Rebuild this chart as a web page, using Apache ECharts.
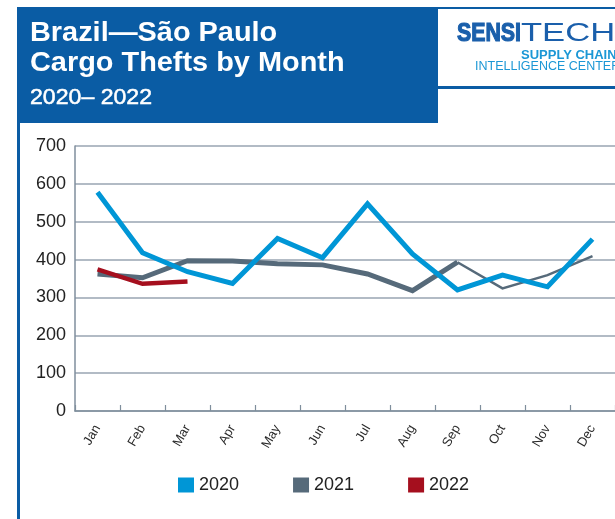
<!DOCTYPE html>
<html>
<head>
<meta charset="utf-8">
<script src="https://cdn.jsdelivr.net/npm/echarts@6/dist/echarts.min.js"></script>
<style>
html,body{margin:0;padding:0;background:#fff;}
#chart{width:615px;height:519px;}
</style>
</head>
<body>
<div id="chart"></div>
<script>
const months = ['Jan','Feb','Mar','Apr','May','Jun','Jul','Aug','Sep','Oct','Nov','Dec'];
const values2020 = [578, 418, 368, 337, 456, 405, 547, 415, 320, 359, 328, 454];
const values2021 = [362, 352, 397, 396, 389, 386, 362, 318, 393, 324, 359, 409];
const values2022 = [374, 336, 342];
const seriesNames = ['2020', '2021', '2022'];
const yMin = 0, yMax = 700, yStep = 100;
const titleLines = ['Brazil\u2014São Paulo', 'Cargo Thefts by Month', '2020\u2013 2022'];

const FONT = "'Liberation Sans', Arial, Helvetica, sans-serif";
const C2020 = '#0096d6', C2021 = '#566a7a', C2022 = '#a50f1e';
const BRAND = '#0a5ca4';

// 2021 is drawn thick through Sep, thin afterwards (as in the reference)
const split2021 = 8;
const v2021a = values2021.map((v, i) => (i <= split2021 ? v : null));
const v2021b = values2021.map((v, i) => (i >= split2021 ? v : null));

const chart = echarts.init(document.getElementById('chart'), null, {renderer: 'canvas'});
chart.setOption({
  animation: false,
  backgroundColor: '#ffffff',
  textStyle: {fontFamily: FONT},
  grid: {left: 75, right: 0, top: 146, bottom: 108},
  legend: {
    data: seriesNames,
    left: 178, top: 476,
    icon: 'rect', itemWidth: 16, itemHeight: 15, itemGap: 54,
    textStyle: {fontSize: 18, color: '#222', fontFamily: FONT},
    padding: 0
  },
  xAxis: {
    type: 'category', data: months, boundaryGap: true,
    axisLine: {lineStyle: {color: '#7f8e9c', width: 1.5}},
    axisTick: {show: true, inside: true, length: 6, interval: 0, lineStyle: {color: '#7f8e9c', width: 1.2}},
    axisLabel: {interval: 0, rotate: 60, fontSize: 13, color: '#2a2a2a', margin: 15, fontFamily: FONT},
    splitLine: {show: false}
  },
  yAxis: {
    type: 'value', min: yMin, max: yMax, interval: yStep,
    axisLine: {show: true, lineStyle: {color: '#7f8e9c', width: 1.5}},
    axisTick: {show: false},
    axisLabel: {fontSize: 18, color: '#222', margin: 9, fontFamily: FONT},
    splitLine: {lineStyle: {color: '#98a5b2', width: 1.5}}
  },
  series: [
    {name: seriesNames[1], type: 'line', data: v2021a, symbol: 'none', z: 2,
     itemStyle: {color: C2021}, lineStyle: {color: C2021, width: 5, join: 'miter'}},
    {name: seriesNames[1], type: 'line', data: v2021b, symbol: 'none', z: 2,
     itemStyle: {color: C2021}, lineStyle: {color: C2021, width: 2.5, join: 'miter'}},
    {name: seriesNames[2], type: 'line', data: values2022, symbol: 'none', z: 3,
     itemStyle: {color: C2022}, lineStyle: {color: C2022, width: 4.5, join: 'miter'}},
    {name: seriesNames[0], type: 'line', data: values2020, symbol: 'none', z: 4,
     itemStyle: {color: C2020}, lineStyle: {color: C2020, width: 5, join: 'miter'}}
  ],
  graphic: [
    {type: 'rect', shape: {x: 17, y: 7, width: 421, height: 116}, style: {fill: BRAND}, silent: true},
    {type: 'rect', shape: {x: 17, y: 7, width: 3, height: 512}, style: {fill: BRAND}, silent: true},
    {type: 'rect', shape: {x: 438, y: 7, width: 177, height: 2}, style: {fill: BRAND}, silent: true},
    {type: 'rect', shape: {x: 438, y: 86, width: 177, height: 3}, style: {fill: BRAND}, silent: true},
    {type: 'text', x: 30, y: 34, scaleX: 1.07, style: {text: titleLines[0], fill: '#fff', font: 'bold 27px ' + FONT, align: 'left', verticalAlign: 'middle'}},
    {type: 'text', x: 30, y: 64, scaleX: 1.07, style: {text: titleLines[1], fill: '#fff', font: 'bold 27px ' + FONT, align: 'left', verticalAlign: 'middle'}},
    {type: 'text', x: 30, y: 98, scaleX: 1.05, style: {text: titleLines[2], fill: '#fff', stroke: '#fff', lineWidth: 0.5, font: '22px ' + FONT, align: 'left', verticalAlign: 'middle'}},
    {type: 'text', x: 457, y: 34, scaleX: 0.82, style: {text: 'SENSI', fill: '#1a5fab', stroke: '#1a5fab', lineWidth: 1.2, font: 'bold 26px ' + FONT, align: 'left', verticalAlign: 'middle'}},
    {type: 'text', x: 521, y: 34, scaleX: 1.33, style: {text: 'TECH', fill: '#1a5fab', font: '26px ' + FONT, align: 'left', verticalAlign: 'middle'}},
    {type: 'text', x: 521, y: 55, style: {text: 'SUPPLY CHAIN', fill: '#1b97d5', font: 'bold 13px ' + FONT, align: 'left', verticalAlign: 'middle'}},
    {type: 'text', x: 475, y: 67, style: {text: 'INTELLIGENCE CENTER', fill: '#1b97d5', font: '12.5px ' + FONT, align: 'left', verticalAlign: 'middle'}}
  ]
});
</script>
</body>
</html>
